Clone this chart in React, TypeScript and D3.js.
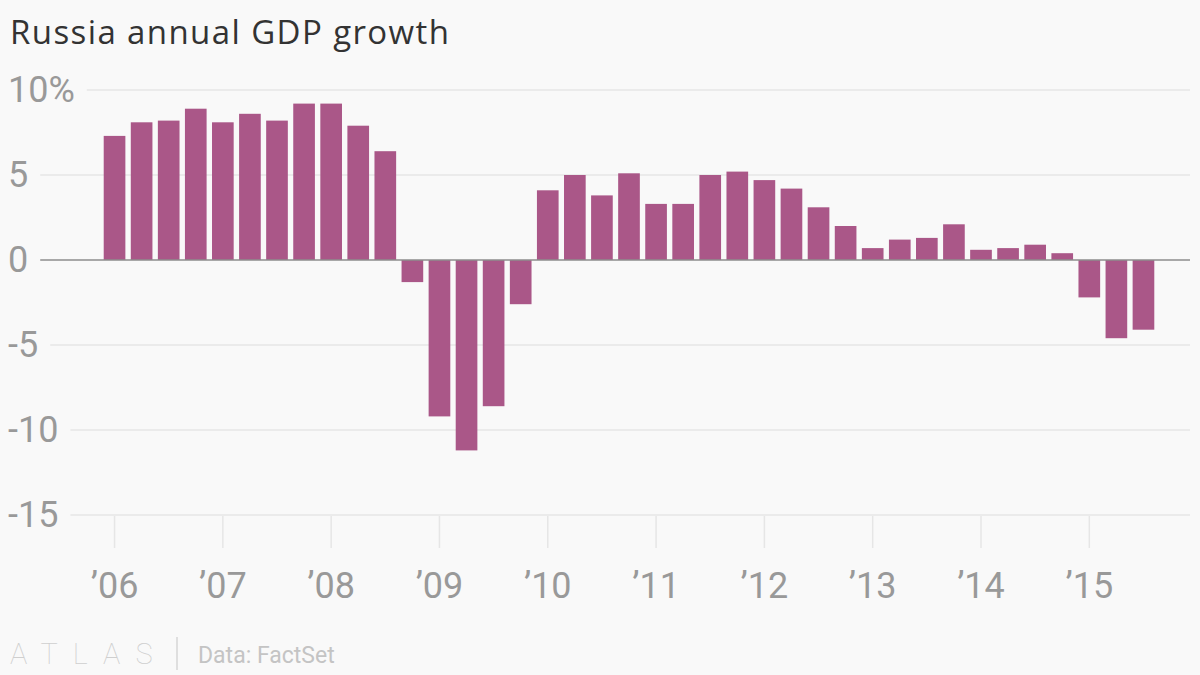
import { useRef, useEffect } from 'react';
import * as d3 from 'd3';

// Quarterly real GDP growth, year over year (%)
const years = ['06', '07', '08', '09', '10', '11', '12', '13', '14', '15'];
const quarters = years.flatMap(y => ['Q1', 'Q2', 'Q3', 'Q4'].map(q => `20${y} ${q}`)).slice(0, 39);
const growth = [
    7.3, 8.1, 8.2, 8.9,
    8.1, 8.6, 8.2, 9.2,
    9.2, 7.9, 6.4, -1.3,
    -9.2, -11.2, -8.6, -2.6,
    4.1, 5.0, 3.8, 5.1,
    3.3, 3.3, 5.0, 5.2,
    4.7, 4.2, 3.1, 2.0,
    0.7, 1.2, 1.3, 2.1,
    0.6, 0.7, 0.9, 0.4,
    -2.2, -4.6, -4.1,
];
const yTicks = [10, 5, 0, -5, -10, -15];

const width = 1200;
const height = 675;

export default function App() {
    const svgRef = useRef<SVGSVGElement>(null);

    useEffect(() => {
        if (!svgRef.current) return;
        const svg = d3.select(svgRef.current);
        svg.selectAll('*').remove();

        const data = quarters.map((q, i) => ({ q, v: growth[i] }));

        const x = d3.scaleBand<string>()
            .domain(quarters)
            .range([101, 1157])
            .paddingInner(0.2)
            .paddingOuter(0.1);

        const y = d3.scaleLinear()
            .domain([-15, 10])
            .range([515, 90]);

        svg.append('rect')
            .attr('width', width)
            .attr('height', height)
            .attr('fill', '#f9f9f9');

        // Title
        svg.append('text')
            .attr('x', 10)
            .attr('y', 44)
            .attr('fill', '#333')
            .attr('font-family', '"Open Sans", sans-serif')
            .attr('font-size', '33px')
            .attr('letter-spacing', '1.4px')
            .text('Russia annual GDP growth');

        // Y axis labels + gridlines
        const yAxis = svg.append('g');
        let zeroStart = 41;
        yTicks.forEach(t => {
            const label = yAxis.append('text')
                .attr('x', 8)
                .attr('y', y(t) + 12)
                .attr('fill', '#999')
                .attr('font-family', 'Roboto, sans-serif')
                .attr('font-size', '36px')
                .text(t === 10 ? '10%' : String(t));
            const w = (label.node() as SVGTextElement).getComputedTextLength();
            if (t === 0) {
                zeroStart = 8 + w + 12;
                return;
            }
            yAxis.append('line')
                .attr('x1', 8 + w + 12)
                .attr('x2', 1190)
                .attr('y1', y(t))
                .attr('y2', y(t))
                .attr('stroke', '#e6e6e6')
                .attr('stroke-width', 1.5);
        });

        // X ticks at Q1 of each year
        const xAxis = svg.append('g');
        years.forEach(yr => {
            const cx = x(`20${yr} Q1`)! + x.bandwidth() / 2;
            xAxis.append('line')
                .attr('x1', cx)
                .attr('x2', cx)
                .attr('y1', 516)
                .attr('y2', 548)
                .attr('stroke', '#e6e6e6')
                .attr('stroke-width', 1.5);
            xAxis.append('text')
                .attr('x', cx)
                .attr('y', 598)
                .attr('text-anchor', 'middle')
                .attr('fill', '#999')
                .attr('font-family', 'Roboto, sans-serif')
                .attr('font-size', '36px')
                .text(`\u2019${yr}`);
        });

        // Bars
        svg.append('g')
            .selectAll('rect')
            .data(data)
            .join('rect')
            .attr('x', d => x(d.q)!)
            .attr('width', x.bandwidth())
            .attr('y', d => y(Math.max(0, d.v)))
            .attr('height', d => Math.abs(y(d.v) - y(0)))
            .attr('fill', '#aa5788');

        // Zero line
        svg.append('line')
            .attr('x1', zeroStart)
            .attr('x2', 1190)
            .attr('y1', y(0))
            .attr('y2', y(0))
            .attr('stroke', '#8c8c8c')
            .attr('stroke-width', 1.5);

        // Footer
        svg.append('text')
            .attr('x', 10)
            .attr('y', 664)
            .attr('fill', '#cfcfcf')
            .attr('font-family', 'Roboto, sans-serif')
            .attr('font-weight', 100)
            .attr('font-size', '29px')
            .attr('letter-spacing', '15px')
            .text('ATLAS');
        svg.append('line')
            .attr('x1', 177)
            .attr('x2', 177)
            .attr('y1', 637)
            .attr('y2', 670)
            .attr('stroke', '#d6d6d6')
            .attr('stroke-width', 1.5);
        svg.append('text')
            .attr('x', 198)
            .attr('y', 663)
            .attr('fill', '#c4c4c4')
            .attr('font-family', 'Roboto, sans-serif')
            .attr('font-size', '23px')
            .text('Data: FactSet');
    }, []);

    return (
        <svg
            ref={svgRef}
            width={width}
            height={height}
            style={{ position: 'absolute', left: 0, top: 0, display: 'block' }}
        />
    );
}
